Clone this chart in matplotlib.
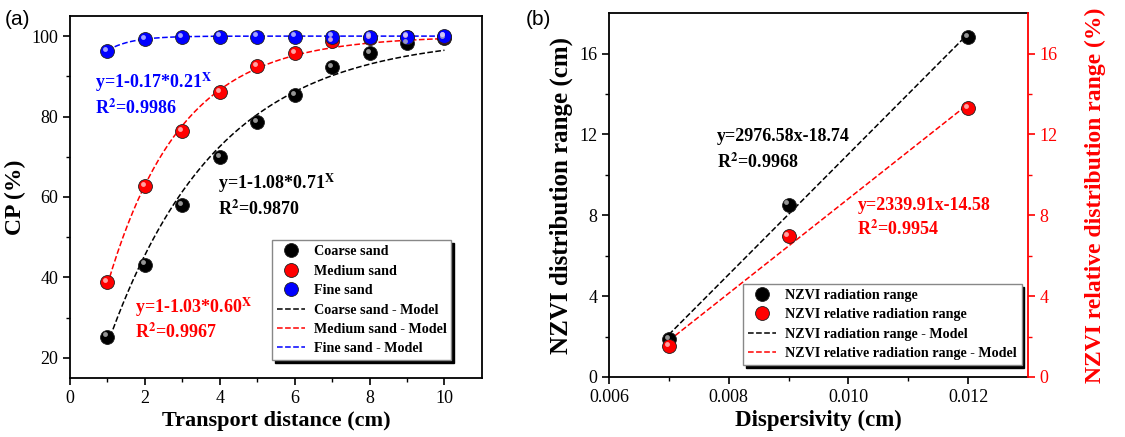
import numpy as np
import matplotlib
matplotlib.use('Agg')
import matplotlib.pyplot as plt
from matplotlib.transforms import offset_copy
from matplotlib.lines import Line2D

plt.rcParams['font.family'] = ['Liberation Serif', 'DejaVu Serif']
plt.rcParams['mathtext.fontset'] = 'stix'

# (a) 運搬距離とCP
distance = [1, 2, 3, 4, 5, 6, 7, 8, 9, 10]
coarse_cp = [25.3, 43.2, 58.1, 70.0, 78.6, 85.3, 92.2, 95.8, 98.3, 99.6]
medium_cp = [38.9, 62.8, 76.5, 86.2, 92.6, 95.8, 98.8, 99.6, 99.8, 99.9]
fine_cp = [96.4, 99.3, 99.8, 99.9, 99.9, 99.9, 99.9, 99.9, 99.9, 100.0]
# モデル式 y=1-a*b^x のパラメータ (図中の式)
model_a = [1.08, 1.03, 0.17]
model_b = [0.71, 0.60, 0.21]

# (b) 分散長とNZVIの分布範囲
dispersivity = [0.007, 0.009, 0.012]
nzvi_range = [1.87, 8.53, 16.8]
nzvi_rel_range = [1.53, 6.98, 13.3]
# 直線 y=k*x+c (図中の式)
fit_k = [2976.58, 2339.91]
fit_c = [-18.74, -14.58]

fig = plt.figure(figsize=(11.25, 4.37), dpi=100)
ax1 = fig.add_axes([0.0622, 0.135, 0.3662, 0.8284])
ax2 = fig.add_axes([0.5413, 0.1373, 0.3725, 0.8327])


def balls(ax, x, y, color, hl, label=None):
    # 球のような点 (本体 + ハイライト)
    ax.plot(x, y, 'o', ms=10, color=color, mec='#202020', mew=0.6, zorder=5, label=label)
    tr = offset_copy(ax.transData, fig=fig, x=-1.5, y=1.5, units='points')
    ax.plot(x, y, 'o', ms=3.5, color=hl, mew=0, alpha=0.8, transform=tr, zorder=6)


def style_axis(ax):
    ax.tick_params(which='both', direction='out', top=False, right=False, labelsize=13)
    ax.tick_params(which='major', length=5, width=1.2)
    ax.tick_params(which='minor', length=3, width=1.0)
    for s in ax.spines.values():
        s.set_linewidth(1.3)


colors = ['black', 'red', 'blue']
highlights = ['#bbbbbb', '#ffcccc', '#ccccff']
names = ['Coarse sand', 'Medium sand', 'Fine sand']
series = [coarse_cp, medium_cp, fine_cp]

xx = np.linspace(1, 10, 200)
for i in range(3):
    yy = (1 - model_a[i] * model_b[i] ** xx) * 100
    ax1.plot(xx, yy, '--', color=colors[i], lw=1.1, zorder=3)
for i in range(3):
    balls(ax1, distance, series[i], colors[i], highlights[i])

ax1.set_xlim(0, 11)
ax1.set_ylim(15, 105)
ax1.set_xticks([0, 2, 4, 6, 8, 10])
ax1.set_xticks([1, 3, 5, 7, 9], minor=True)
ax1.set_yticks([20, 40, 60, 80, 100])
ax1.set_yticks([30, 50, 70, 90], minor=True)
style_axis(ax1)
ax1.set_xlabel('Transport distance (cm)', fontsize=16, fontweight='bold', labelpad=3)
ax1.set_ylabel('CP (%)', fontsize=17, fontweight='bold', labelpad=4)

ax1.text(0.66, 88.5, r'y=1-0.17*0.21$^{\mathbf{X}}$', color='blue', fontsize=13, fontweight='bold', va='center')
ax1.text(0.66, 82, r'R$^{\mathbf{2}}$=0.9986', color='blue', fontsize=13, fontweight='bold', va='center')
ax1.text(3.94, 63.5, r'y=1-1.08*0.71$^{\mathbf{X}}$', color='black', fontsize=13, fontweight='bold', va='center')
ax1.text(3.94, 57, r'R$^{\mathbf{2}}$=0.9870', color='black', fontsize=13, fontweight='bold', va='center')
ax1.text(1.73, 32.5, r'y=1-1.03*0.60$^{\mathbf{X}}$', color='red', fontsize=13, fontweight='bold', va='center')
ax1.text(1.73, 26.3, r'R$^{\mathbf{2}}$=0.9967', color='red', fontsize=13, fontweight='bold', va='center')

handles = [Line2D([], [], ls='none', marker='o', ms=10, color=c, mec='#202020', mew=0.6) for c in colors]
handles += [Line2D([], [], ls='--', color=c, lw=1.1) for c in colors]
labels = names + [n + ' - Model' for n in names]
leg = ax1.legend(handles, labels, loc='upper left', bbox_to_anchor=(0.49, 0.38), borderaxespad=0,
                 prop={'size': 10.2, 'weight': 'bold'}, fancybox=False, edgecolor='#888888',
                 shadow={'color': 'black', 'alpha': 1}, labelspacing=0.45, handlelength=2.0,
                 handletextpad=0.6, borderpad=0.35)
leg.get_frame().set_linewidth(1.0)

# (b)
xl = np.linspace(0.007, 0.012, 50)
ax2.plot(xl, fit_k[0] * xl + fit_c[0], '--', color='black', lw=1.1, zorder=3)
ax2.plot(xl, fit_k[1] * xl + fit_c[1], '--', color='red', lw=1.1, zorder=3)
balls(ax2, dispersivity, nzvi_range, 'black', '#bbbbbb')
balls(ax2, dispersivity, nzvi_rel_range, 'red', '#ffcccc')

ax2.set_xlim(0.006, 0.013)
ax2.set_ylim(0, 18)
ax2.set_xticks([0.006, 0.008, 0.010, 0.012])
ax2.set_xticklabels(['0.006', '0.008', '0.010', '0.012'])
ax2.set_xticks([0.007, 0.009, 0.011], minor=True)
ax2.set_yticks([0, 4, 8, 12, 16])
ax2.set_yticks([2, 6, 10, 14], minor=True)
style_axis(ax2)
ax2.spines['right'].set_visible(False)
ax2.set_xlabel('Dispersivity (cm)', fontsize=16.5, fontweight='bold', labelpad=3)
ax2.set_ylabel('NZVI distribution range (cm)', fontsize=18, fontweight='bold', labelpad=4)

ax3 = ax2.twinx()
ax3.set_ylim(0, 18)
ax3.set_yticks([0, 4, 8, 12, 16])
ax3.set_yticks([2, 6, 10, 14], minor=True)
ax3.tick_params(which='both', direction='out', colors='red', labelsize=13)
ax3.tick_params(which='major', length=5, width=1.2)
ax3.tick_params(which='minor', length=3, width=1.0)
for s in ['left', 'top', 'bottom']:
    ax3.spines[s].set_visible(False)
ax3.spines['right'].set_color('red')
ax3.spines['right'].set_linewidth(1.3)
ax3.set_ylabel('NZVI relative distribution range (%)', fontsize=17, fontweight='bold', color='red', labelpad=4)
ax3.yaxis.set_label_coords(1.135, 0.5)

ax2.text(0.00781, 11.9, 'y=2976.58x-18.74', color='black', fontsize=13, fontweight='bold', va='center')
ax2.text(0.00781, 10.6, r'R$^{\mathbf{2}}$=0.9968', color='black', fontsize=13, fontweight='bold', va='center')
ax2.text(0.01015, 8.5, 'y=2339.91x-14.58', color='red', fontsize=13, fontweight='bold', va='center')
ax2.text(0.01015, 7.3, r'R$^{\mathbf{2}}$=0.9954', color='red', fontsize=13, fontweight='bold', va='center')

handles2 = [Line2D([], [], ls='none', marker='o', ms=10, color=c, mec='#202020', mew=0.6) for c in ['black', 'red']]
handles2 += [Line2D([], [], ls='--', color=c, lw=1.1) for c in ['black', 'red']]
labels2 = ['NZVI radiation range', 'NZVI relative radiation range',
           'NZVI radiation range - Model', 'NZVI relative radiation range - Model']
leg2 = ax2.legend(handles2, labels2, loc='upper left', bbox_to_anchor=(0.32, 0.2555), borderaxespad=0,
                  prop={'size': 10.2, 'weight': 'bold'}, fancybox=False, edgecolor='#888888',
                  shadow={'color': 'black', 'alpha': 1}, labelspacing=0.45, handlelength=2.0,
                  handletextpad=0.6, borderpad=0.35)
leg2.get_frame().set_linewidth(1.0)

fig.text(0.004, 0.955, '(a)', fontsize=15, family='Liberation Sans', va='center')
fig.text(0.467, 0.955, '(b)', fontsize=15, family='Liberation Sans', va='center')

fig.savefig('out.png', dpi=100)
